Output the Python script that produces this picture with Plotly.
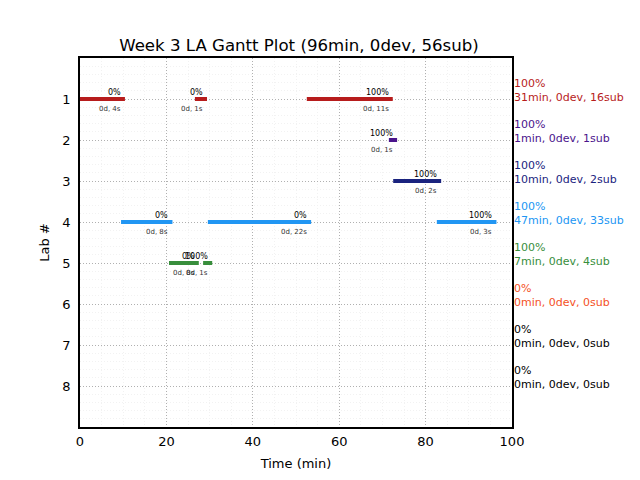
import plotly.graph_objects as go

# Data
labs = [1, 2, 3, 4, 5, 6, 7, 8]
seg_lab = [1, 1, 1, 2, 3, 4, 4, 4, 5, 5]
seg_start = [0.0, 26.6, 52.5, 71.5, 72.5, 9.5, 29.6, 82.6, 20.6, 28.5]
seg_end = [10.4, 29.4, 72.4, 73.4, 83.6, 21.4, 53.5, 96.4, 27.5, 30.6]
seg_pct = ["0%", "0%", "100%", "100%", "100%", "0%", "0%", "100%", "0%", "100%"]
seg_dur = ["0d, 4s", "0d, 1s", "0d, 11s", "0d, 1s", "0d, 2s", "0d, 8s", "0d, 22s", "0d, 3s", "0d, 8s", "0d, 1s"]
lab_colors = ["#b71c1c", "#4a148c", "#1a237e", "#2196f3", "#388e3c", "#f4511e", "#000000", "#000000"]
lab_pct = ["100%", "100%", "100%", "100%", "100%", "0%", "0%", "0%"]
lab_summary = ["31min, 0dev, 16sub", "1min, 0dev, 1sub", "10min, 0dev, 2sub", "47min, 0dev, 33sub",
               "7min, 0dev, 4sub", "0min, 0dev, 0sub", "0min, 0dev, 0sub", "0min, 0dev, 0sub"]
title = "Week 3 LA Gantt Plot (96min, 0dev, 56sub)"

FONT = "DejaVu Sans"
fig = go.Figure()

for lab, s, e, p, d in zip(seg_lab, seg_start, seg_end, seg_pct, seg_dur):
    col = lab_colors[lab - 1]
    fig.add_trace(go.Scatter(x=[s, e], y=[lab, lab], mode="lines",
                             line=dict(color=col, width=4), showlegend=False, hoverinfo="skip"))
    fig.add_annotation(x=e, y=lab, text=p, showarrow=False, xanchor="right", yanchor="bottom",
                       xshift=-2, yshift=0, font=dict(family=FONT, size=8, color="#000000"))
    fig.add_annotation(x=e, y=lab, text=d, showarrow=False, xanchor="right", yanchor="top",
                       xshift=-2, yshift=-4, font=dict(family=FONT, size=7, color="#333333"))

for lab, col, p, sm in zip(labs, lab_colors, lab_pct, lab_summary):
    fig.add_annotation(x=1.0, xref="paper", y=lab, yref="y", text=p + "<br>" + sm,
                       showarrow=False, xanchor="left", yanchor="middle", align="left", yshift=9,
                       font=dict(family=FONT, size=11, color=col))

W, H = 632, 472
fig.update_layout(
    width=W, height=H,
    margin=dict(l=72, r=128, t=50, b=53),
    paper_bgcolor="white", plot_bgcolor="white",
    title=dict(text=title, x=(72 + 216 + 3) / W, xanchor="center", y=1 - 37 / H, yanchor="middle",
               font=dict(family=FONT, size=16.6, color="black")),
    font=dict(family=FONT, size=13, color="black"),
    xaxis=dict(range=[0, 100], tickvals=[0, 20, 40, 60, 80, 100], ticks="", showline=True,
               linecolor="black", linewidth=1.5, mirror=True, zeroline=False,
               showgrid=True, gridcolor="#b0b0b0", griddash="1px,2px", gridwidth=1,
               minor=dict(dtick=5, showgrid=True, gridcolor="#f2f2f2", gridwidth=1),
               title=dict(text="Time (min)", font=dict(size=13), standoff=11),
               ticklabelstandoff=2,
               tickfont=dict(size=13)),
    yaxis=dict(range=[9, 0], tickvals=labs, ticks="", showline=True,
               linecolor="black", linewidth=1.5, mirror=True, zeroline=False,
               showgrid=True, gridcolor="#b0b0b0", griddash="1px,2px", gridwidth=1,
               minor=dict(dtick=0.2, showgrid=True, gridcolor="#f2f2f2", gridwidth=1),
               title=dict(text="Lab #", font=dict(size=13), standoff=10),
               ticklabelstandoff=5,
               tickfont=dict(size=13)),
)

fig.write_html("out.html")
